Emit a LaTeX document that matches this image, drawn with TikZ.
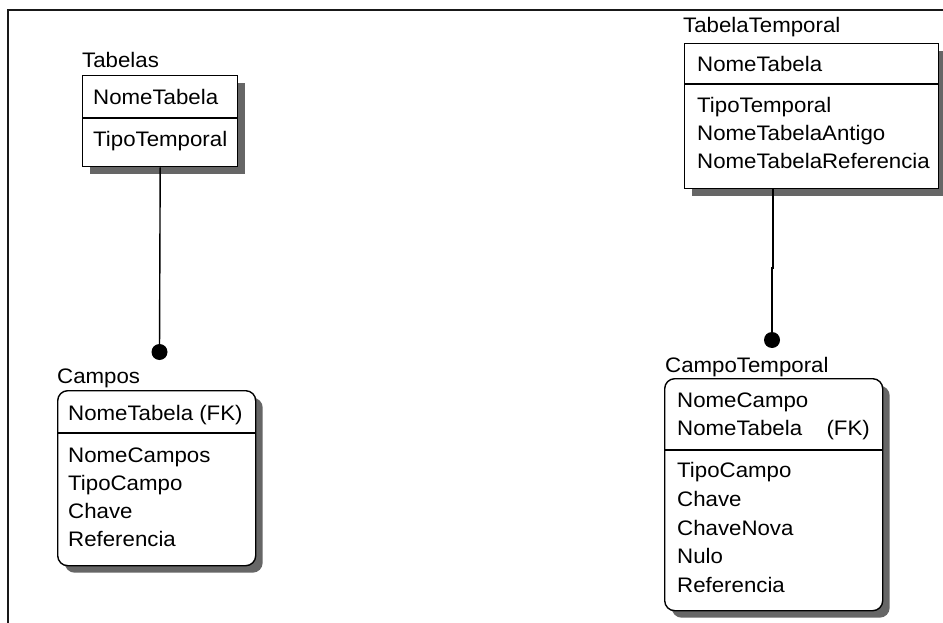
\documentclass[tikz,border=0pt]{standalone}
\usepackage{fontspec}
\setmainfont{Liberation Sans}[FakeStretch=1.06]
\usetikzlibrary{shadows}
\begin{document}
\begin{tikzpicture}[x=1pt,y=-1pt,
  entity/.style={draw=black, line width=1.4pt, fill=white, inner sep=0pt,
    anchor=north west,
    drop shadow={shadow xshift=7pt, shadow yshift=-7pt, fill=black!60, opacity=1}},
  dependent/.style={entity, rounded corners=10pt},
  txt/.style={anchor=base west, inner sep=0pt, font=\fontsize{21}{24}\selectfont},
  divider/.style={line width=1.2pt},
  link/.style={line width=1.4pt},
  dotend/.style={circle, fill=black, inner sep=0pt, minimum size=16pt}]

\useasboundingbox (0,0) rectangle (943,623);

% open outer frame
\draw[line width=2.5pt, black!90] (8,650) -- (8,10) -- (970,10);

% ---- Tabelas ----
\node[entity, minimum width=155pt, minimum height=91pt] (tabelas) at (82,75) {};
\draw[divider] (tabelas.west |- 0,118) -- (tabelas.east |- 0,118);
\node[txt] (tabelasTitle) at (82,68) {Tabelas};
\node[txt] (tabelasA1) at (93,105) {NomeTabela};
\node[txt] (tabelasA2) at (93,147) {TipoTemporal};

% ---- Campos ----
\node[dependent, minimum width=198pt, minimum height=175pt] (campos) at (57,390) {};
\draw[divider] (campos.west |- 0,433) -- (campos.east |- 0,433);
\node[txt] (camposTitle) at (57,383) {Campos};
\node[txt] (camposK1) at (68,420) {NomeTabela (FK)};
\node[txt] (camposA1) at (68,462) {NomeCampos};
\node[txt] (camposA2) at (68,490) {TipoCampo};
\node[txt] (camposA3) at (68,518) {Chave};
\node[txt] (camposA4) at (68,546) {Referencia};

% ---- TabelaTemporal ----
\node[entity, minimum width=254pt, minimum height=145pt] (tabtemp) at (684,43) {};
\draw[divider] (tabtemp.west |- 0,84) -- (tabtemp.east |- 0,84);
\node[txt] (tabtempTitle) at (683,33) {TabelaTemporal};
\node[txt] (tabtempK1) at (697,72) {NomeTabela};
\node[txt] (tabtempA1) at (697,113) {TipoTemporal};
\node[txt] (tabtempA2) at (697,141) {NomeTabelaAntigo};
\node[txt] (tabtempA3) at (697,169) {NomeTabelaReferencia};

% ---- CampoTemporal ----
\node[dependent, minimum width=218pt, minimum height=232pt] (camptemp) at (664,378) {};
\draw[divider] (camptemp.west |- 0,450) -- (camptemp.east |- 0,450);
\node[txt] (camptempTitle) at (665,372) {CampoTemporal};
\node[txt] (camptempK1) at (677,407) {NomeCampo};
\node[txt] (camptempK2) at (677,435) {NomeTabela};
\node[txt, anchor=base east] (camptempFK) at (870,435) {(FK)};
\node[txt] (camptempA1) at (677,477) {TipoCampo};
\node[txt] (camptempA2) at (677,506) {Chave};
\node[txt] (camptempA3) at (677,535) {ChaveNova};
\node[txt] (camptempA4) at (677,563) {Nulo};
\node[txt] (camptempA5) at (677,592) {Referencia};

% ---- relationships ----
\node[dotend] (camposDot) at (159.5,352) {};
\node[dotend] (camptempDot) at (772,340) {};
\draw[link] (tabelas.south) -- (camposDot);
\draw[link] (tabtemp.south -| 773,0) -- (773,268) -- (772,268) -- (camptempDot);

\end{tikzpicture}
\end{document}
